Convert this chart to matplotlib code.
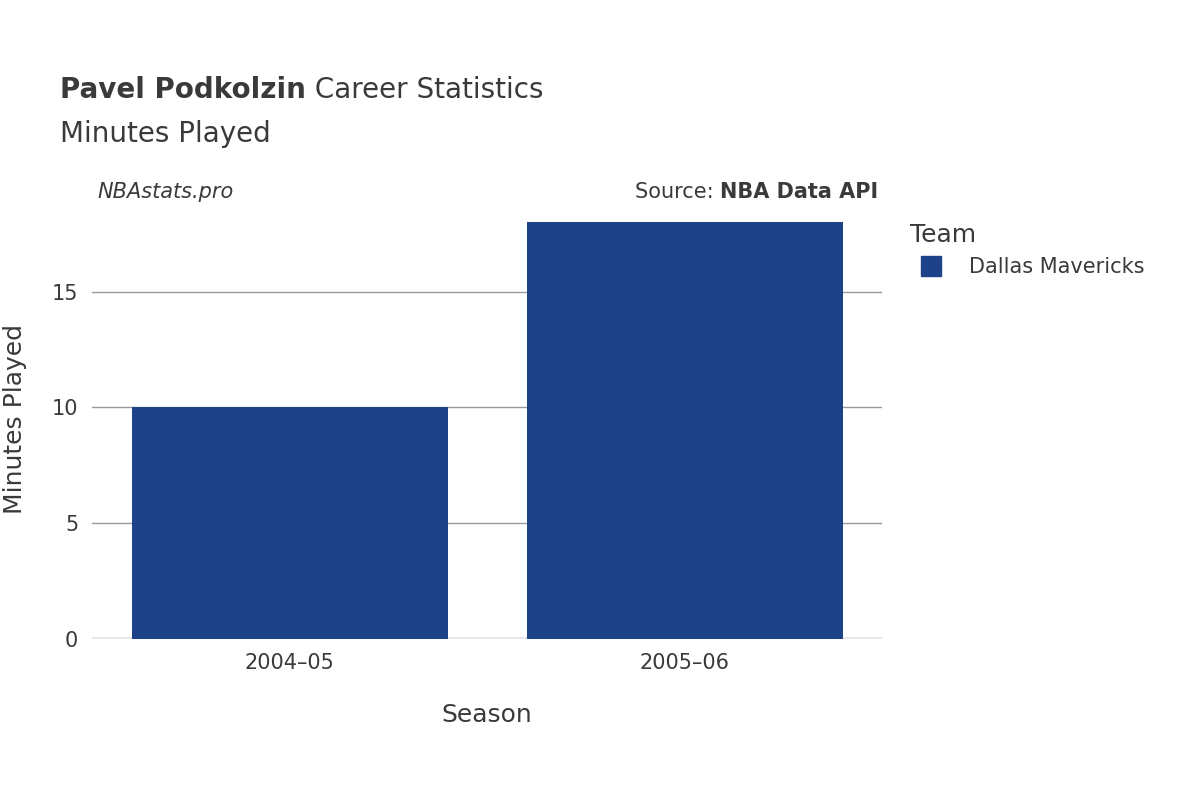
import matplotlib.pyplot as plt
from matplotlib.lines import Line2D

plt.rcParams['font.family'] = ['DejaVu Sans']

seasons = ['2004\u201305', '2005\u201306']
minutes = [10, 18]
team = 'Dallas Mavericks'
bar_color = '#1d4289'
text_color = '#3a3a3a'

fig = plt.figure(figsize=(12, 8), dpi=100)
ax = fig.add_axes([0.0767, 0.20125, 0.6583, 0.54875])

ax.bar(range(len(seasons)), minutes, width=0.8, color=bar_color, zorder=3)
ax.set_xlim(-0.5, 1.5)
ax.set_ylim(0, 18.95)
ax.set_yticks([0, 5, 10, 15])
ax.set_xticks(range(len(seasons)))
ax.set_xticklabels(seasons)
ax.grid(axis='y', color='#999999', linewidth=1, zorder=0)
ax.axhline(0, color='#e8e8ec', linewidth=3, zorder=2)
for s in ax.spines.values():
    s.set_visible(False)
ax.tick_params(length=0, labelsize=15, colors=text_color, pad=10)
ax.set_xlabel('Season', fontsize=18, color=text_color, labelpad=22)
ax.set_ylabel('Minutes Played', fontsize=18, color=text_color, labelpad=18)

t1 = fig.text(0.05, 0.877, 'Pavel Podkolzin', fontsize=20, fontweight='bold', color=text_color)
ax.annotate(' Career Statistics', xycoords=t1, xy=(1, 0), va='bottom',
            fontsize=20, color=text_color)
fig.text(0.05, 0.822, 'Minutes Played', fontsize=20, color=text_color)
fig.text(0.081, 0.752, 'NBAstats.pro', fontsize=15, style='italic', color=text_color)
t2 = fig.text(0.732, 0.752, 'NBA Data API', fontsize=15, fontweight='bold',
              color=text_color, ha='right')
ax.annotate('Source: ', xycoords=t2, xy=(0, 0), va='bottom', ha='right',
            fontsize=15, color=text_color)

handle = Line2D([], [], marker='s', linestyle='', markersize=15, color=bar_color)
leg = fig.legend([handle], [team], loc='upper left', bbox_to_anchor=(0.743, 0.745),
                 frameon=False, fontsize=15, title='Team', title_fontsize=18,
                 labelcolor=text_color, alignment='left')
leg.get_title().set_color(text_color)

fig.savefig('out.png', dpi=100)
